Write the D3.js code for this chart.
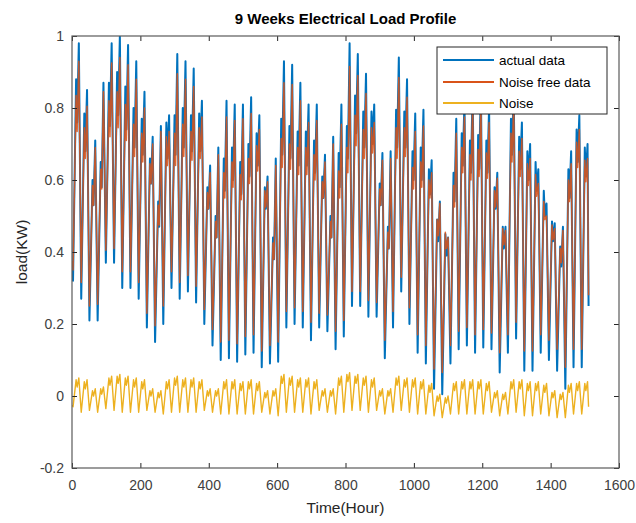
<!DOCTYPE html>
<html><head><meta charset="utf-8">
<script src="https://cdn.jsdelivr.net/npm/d3@7"></script>
<style>body{margin:0;background:#fff}svg{display:block;font-family:"Liberation Sans",Arial,sans-serif}</style>
</head><body><svg id="c" width="636" height="523"></svg>
<script>
// ---------- data ----------
const titleText = "9 Weeks Electrical Load Profile";
const xLabelText = "Time(Hour)";
const yLabelText = "load(KW)";
const xTicks = [0,200,400,600,800,1000,1200,1400,1600];
const yTicks = [-0.2,0,0.2,0.4,0.6,0.8,1];
const seriesNames = ["actual data","Noise free data","Noise"];
const seriesColors = ["#0072BD","#D95319","#EDB120"];

// hour-of-day of the four key points of each day: night trough, first peak, midday dip, main peak
const keyHours = [3,12,15,20];

// actual load at each day's key points (63 days)
const actualTrough = [0.32,0.27,0.21,0.21,0.37,0.37,0.30,0.30,0.27,0.19,0.15,0.20,0.30,0.27,0.29,0.26,
  0.20,0.14,0.10,0.105,0.095,0.115,0.12,0.08,0.09,0.095,0.19,0.20,0.19,0.155,0.19,0.18,
  0.13,0.165,0.25,0.25,0.22,0.22,0.105,0.19,0.29,0.20,0.12,0.09,0.02,0.005,0.09,0.13,
  0.14,0.12,0.135,0.13,0.065,0.12,0.16,0.07,0.07,0.12,0.10,0.07,0.02,0.08,0.08];
const actualPeak1 = [0.88,0.785,0.60,0.65,0.87,0.90,0.86,0.80,0.77,0.66,0.54,0.76,0.78,0.80,0.78,0.785,
  0.58,0.50,0.66,0.69,0.65,0.70,0.73,0.58,0.44,0.77,0.75,0.735,0.735,0.71,0.61,0.50,
  0.675,0.75,0.835,0.79,0.79,0.59,0.47,0.795,0.79,0.68,0.69,0.63,0.49,0.45,0.62,0.73,
  0.71,0.725,0.71,0.58,0.47,0.77,0.72,0.68,0.65,0.57,0.485,0.415,0.63,0.74,0.69];
const actualDip = [0.76,0.68,0.53,0.58,0.75,0.78,0.74,0.69,0.67,0.59,0.47,0.66,0.67,0.69,0.68,0.68,
  0.52,0.44,0.57,0.60,0.56,0.61,0.64,0.52,0.38,0.67,0.66,0.64,0.64,0.62,0.55,0.44,
  0.58,0.66,0.73,0.69,0.70,0.53,0.41,0.69,0.69,0.60,0.60,0.56,0.43,0.39,0.54,0.64,
  0.62,0.63,0.62,0.52,0.41,0.67,0.63,0.60,0.57,0.50,0.43,0.36,0.55,0.65,0.61];
const actualPeak2 = [0.98,0.85,0.71,0.87,0.98,1.0,0.975,0.93,0.845,0.72,0.75,0.78,0.95,0.93,0.91,0.82,
  0.64,0.69,0.82,0.81,0.81,0.83,0.78,0.61,0.66,0.93,0.92,0.87,0.81,0.81,0.67,0.72,
  0.81,0.98,0.95,0.895,0.81,0.675,0.68,0.94,0.88,0.785,0.795,0.655,0.54,0.44,0.77,0.82,
  0.86,0.86,0.80,0.62,0.47,0.86,0.76,0.70,0.63,0.535,0.48,0.47,0.68,0.78,0.70];

// noise at the same key points
const noiseTrough = [-0.03,-0.045,-0.04,-0.045,-0.035,-0.04,-0.045,-0.045,-0.045,-0.04,-0.045,-0.05,-0.045,-0.045,-0.045,-0.045,
  -0.04,-0.045,-0.05,-0.05,-0.05,-0.05,-0.05,-0.045,-0.05,-0.055,-0.045,-0.045,-0.045,-0.05,-0.04,-0.045,
  -0.05,-0.045,-0.04,-0.04,-0.045,-0.04,-0.05,-0.045,-0.04,-0.045,-0.05,-0.05,-0.055,-0.06,-0.05,-0.05,
  -0.05,-0.05,-0.05,-0.045,-0.055,-0.05,-0.045,-0.055,-0.055,-0.05,-0.055,-0.06,-0.06,-0.05,-0.05];
const noisePeak1 = [0.045,0.04,0.015,0.02,0.05,0.055,0.05,0.045,0.04,0.015,0.01,0.04,0.05,0.045,0.045,0.04,
  0.015,0.015,0.04,0.04,0.035,0.04,0.035,0.01,0.015,0.055,0.05,0.045,0.045,0.04,0.015,0.015,
  0.05,0.06,0.055,0.05,0.045,0.015,0.015,0.05,0.045,0.045,0.04,0.03,0.0,-0.005,0.035,0.04,
  0.04,0.04,0.035,0.01,0.005,0.04,0.04,0.035,0.035,0.03,0.01,0.005,0.03,0.035,0.035];
const noiseDip = [0.025,0.02,0.0,0.005,0.03,0.035,0.03,0.025,0.02,0.0,-0.005,0.02,0.03,0.025,0.025,0.02,
  0.0,0.0,0.02,0.02,0.015,0.02,0.015,-0.005,0.0,0.035,0.03,0.025,0.025,0.02,0.0,0.0,
  0.03,0.04,0.035,0.03,0.025,0.0,0.0,0.03,0.025,0.025,0.02,0.01,-0.015,-0.02,0.015,0.02,
  0.02,0.02,0.015,-0.005,-0.01,0.02,0.02,0.015,0.015,0.01,-0.005,-0.01,0.01,0.015,0.015];
const noisePeak2 = [0.05,0.045,0.02,0.025,0.055,0.06,0.055,0.05,0.045,0.02,0.015,0.045,0.055,0.05,0.05,0.045,
  0.02,0.02,0.045,0.045,0.04,0.045,0.04,0.015,0.02,0.06,0.055,0.05,0.05,0.045,0.02,0.02,
  0.055,0.065,0.06,0.055,0.05,0.02,0.02,0.055,0.05,0.05,0.045,0.035,0.005,0.0,0.04,0.045,
  0.045,0.045,0.04,0.015,0.01,0.045,0.045,0.04,0.04,0.035,0.015,0.01,0.035,0.04,0.04];

// first and last recorded hours
const edgeHours = [1,1511];
const edgeActual = [0.35,0.25];
const edgeNoise = [-0.025,-0.03];

// ---------- build table ----------
const actualByKey = [actualTrough, actualPeak1, actualDip, actualPeak2];
const noiseByKey = [noiseTrough, noisePeak1, noiseDip, noisePeak2];
const rows = [];
rows.push({h: edgeHours[0], a: edgeActual[0], n: edgeNoise[0]});
for (let d = 0; d < actualTrough.length; d++) {
  for (let k = 0; k < keyHours.length; k++) {
    rows.push({h: d*24 + keyHours[k], a: actualByKey[k][d], n: noiseByKey[k][d]});
  }
}
rows.push({h: edgeHours[1], a: edgeActual[1], n: edgeNoise[1]});
rows.forEach(r => { r.f = r.a - r.n; });

// ---------- drawing ----------
const svg = d3.select("#c");
const L = 72, R = 619, T = 36, B = 468;
const x = d3.scaleLinear().domain([0,1600]).range([L,R]);
const y = d3.scaleLinear().domain([-0.2,1]).range([B,T]);
const axisColor = "#262626";
const fmt = v => String(+v.toFixed(1));

svg.append("defs").append("clipPath").attr("id","clip")
  .append("rect").attr("x",L).attr("y",T).attr("width",R-L).attr("height",B-T);

const plot = svg.append("g").attr("clip-path","url(#clip)");
const accessors = [r => r.a, r => r.f, r => r.n];
const widths = [2, 1.5, 1.4];
const opac = [1, 0.88, 1];
accessors.forEach((acc, i) => {
  plot.append("path").datum(rows)
    .attr("fill","none").attr("stroke",seriesColors[i]).attr("stroke-width",widths[i])
    .attr("stroke-opacity",opac[i])
    .attr("stroke-linejoin","round")
    .attr("d", d3.line().x(r => x(r.h)).y(r => y(acc(r))));
});

function styleAxis(g){
  g.select(".domain").remove();
  g.selectAll("line").attr("stroke",axisColor).attr("stroke-width",1);
  g.selectAll("text").attr("fill","#404040").style("font-size","14px")
   .style("font-family",'"Liberation Sans",Arial,sans-serif');
}
svg.append("g").attr("transform",`translate(0,${B})`)
  .call(d3.axisBottom(x).tickValues(xTicks).tickFormat(d=>String(d)).tickSize(-5).tickPadding(12))
  .call(styleAxis);
svg.append("g").attr("transform",`translate(0,${T})`)
  .call(d3.axisTop(x).tickValues(xTicks).tickFormat("").tickSize(-5))
  .call(styleAxis);
svg.append("g").attr("transform",`translate(${L},0)`)
  .call(d3.axisLeft(y).tickValues(yTicks).tickFormat(fmt).tickSize(-5).tickPadding(8))
  .call(styleAxis);
svg.append("g").attr("transform",`translate(${R},0)`)
  .call(d3.axisRight(y).tickValues(yTicks).tickFormat("").tickSize(-5))
  .call(styleAxis);

svg.append("rect").attr("x",L).attr("y",T).attr("width",R-L).attr("height",B-T)
  .attr("fill","none").attr("stroke","#5a5a5a").attr("stroke-width",1.2);

svg.append("text").attr("x",(L+R)/2).attr("y",24).attr("text-anchor","middle")
  .style("font-size","15px").style("font-weight","bold").attr("fill","#000").text(titleText);
svg.append("text").attr("x",(L+R)/2).attr("y",513).attr("text-anchor","middle")
  .style("font-size","15.5px").attr("fill","#262626").text(xLabelText);
svg.append("text").attr("transform",`translate(27,${(T+B)/2}) rotate(-90)`).attr("text-anchor","middle")
  .style("font-size","15.5px").attr("fill","#262626").text(yLabelText);

// legend
const lg = svg.append("g");
lg.append("rect").attr("x",437).attr("y",47).attr("width",170).attr("height",67)
  .attr("fill","#fff").attr("stroke","#262626").attr("stroke-width",1);
const rowsY = [60,82,103];
seriesNames.forEach((name,i)=>{
  lg.append("line").attr("x1",443).attr("x2",494).attr("y1",rowsY[i]).attr("y2",rowsY[i])
    .attr("stroke",seriesColors[i]).attr("stroke-width",2);
  lg.append("text").attr("x",499).attr("y",rowsY[i]).attr("dy","0.35em")
    .style("font-size","13.5px").attr("fill","#000").text(name);
});
</script></body></html>
